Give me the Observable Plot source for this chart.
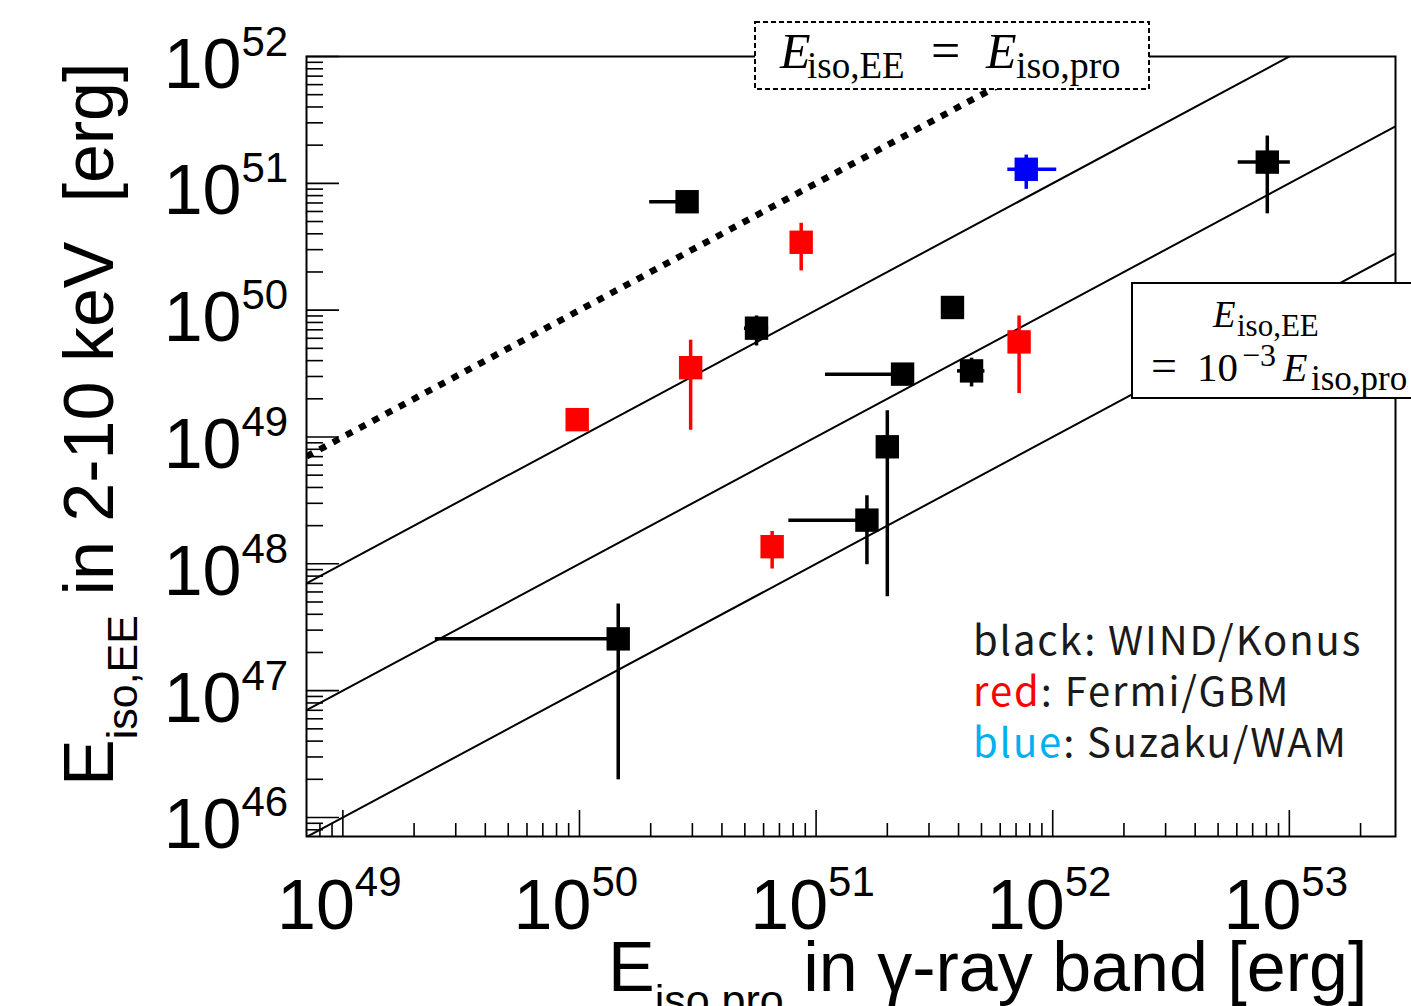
<!DOCTYPE html>
<html>
<head>
<meta charset="utf-8">
<script src="https://cdn.jsdelivr.net/npm/d3@7"></script>
<script src="https://cdn.jsdelivr.net/npm/@observablehq/plot@0.6"></script>
<style>
html, body { margin: 0; padding: 0; background: #fff; overflow: hidden; }
</style>
</head>
<body>
<div id="chart"></div>
<script>
// ---------- data ----------
const detector    = ["WIND","Fermi","WIND","Fermi","Fermi","WIND","Fermi","WIND","WIND","WIND","WIND","WIND","Fermi","Suzaku","WIND"];
const eisoPro     = [2.85e50, 8.65e50, 5.6e50, 2.95e50, 9.78e49, 3.77e51, 7.21e51, 2.32e51, 4.54e51, 2.0e51, 1.64e51, 1.458e50, 6.52e50, 7.73e51, 8.07e52];
const eisoProLow  = [1.98e50, null, 4.98e50, null, null, null, null, 1.096e51, 3.96e51, null, 7.67e50, 2.46e49, null, 6.46e51, 6.08e52];
const eisoProHigh = [null, null, 6.3e50, null, null, null, null, null, 5.17e51, null, null, null, null, 1.04e52, 1.01e53];
const eisoEE      = [7.16e50, 3.43e50, 7.21e49, 3.52e49, 1.37e49, 1.05e50, 5.62e49, 3.13e49, 3.32e49, 8.37e48, 2.21e48, 2.56e47, 1.365e48, 1.29e51, 1.47e51];
const eisoEELow   = [null, 2.04e50, 5.22e49, 1.13e49, null, null, 2.2e49, null, 2.48e49, 5.5e47, 9.84e47, 1.98e46, 9.1e47, 8.97e50, 5.75e50];
const eisoEEHigh  = [null, 4.84e50, 9.0e49, 5.8e49, null, null, 9.0e49, null, 4.18e49, 1.61e49, 3.44e48, 4.82e47, 1.8e48, 1.67e51, 2.36e51];

const detectorNames  = ["WIND", "Fermi", "Suzaku"];
const detectorColors = ["#000000", "#ff0000", "#0000ff"];

const ratioLines     = [1, 1e-1, 1e-2, 1e-3];   // E_iso,EE = ratio * E_iso,pro
const xDomain        = [7.02e48, 2.81e53];
const yDomain        = [7.08e45, 1e52];
const xTickExponents = [49, 50, 51, 52, 53];
const yTickExponents = [46, 47, 48, 49, 50, 51, 52];

const legendWords  = ["black", "red", "blue"];
const legendColors = ["#1a1a1a", "#ff0000", "#00b0f0"];
const legendLabels = [": WIND/Konus", ": Fermi/GBM", ": Suzaku/WAM"];

// ---------- derived tables ----------
const colorOf = d => detectorColors[detectorNames.indexOf(d)];
const points = eisoPro.map((x, i) => ({
  x, y: eisoEE[i],
  xlo: eisoProLow[i], xhi: eisoProHigh[i],
  ylo: eisoEELow[i], yhi: eisoEEHigh[i],
  color: colorOf(detector[i])
}));
const hErr = points.filter(p => p.xlo != null || p.xhi != null)
  .map(p => ({...p, x1: p.xlo ?? p.x, x2: p.xhi ?? p.x}));
const vErr = points.filter(p => p.ylo != null || p.yhi != null)
  .map(p => ({...p, y1: p.ylo ?? p.y, y2: p.yhi ?? p.y}));

const lineData = ratioLines.flatMap(r => xDomain.map(x => ({ratio: r, x, y: r * x})));

const minorTicks = (dom) => {
  const out = [];
  for (let e = Math.floor(Math.log10(dom[0])); e <= Math.ceil(Math.log10(dom[1])); e++)
    for (let k = 2; k <= 9; k++) { const v = k * Math.pow(10, e); if (v >= dom[0] && v <= dom[1]) out.push(v); }
  return out;
};
const xMinor = minorTicks(xDomain);
const yMinor = minorTicks(yDomain);

const W = 1411, H = 1006, mL = 306, mR = 16, mT = 56, mB = 170;
const frameW = W - mL - mR, frameH = H - mT - mB;

const plot = Plot.plot({
  width: W, height: H,
  marginLeft: mL, marginRight: mR, marginTop: mT, marginBottom: mB,
  style: {fontFamily: "'Liberation Sans', Arial, Helvetica, sans-serif", background: "white", color: "black"},
  x: {type: "log", domain: xDomain, axis: null},
  y: {type: "log", domain: yDomain, axis: null},
  marks: [
    // ratio lines
    Plot.line(lineData.filter(d => d.ratio !== 1), {x: "x", y: "y", z: "ratio", stroke: "black", strokeWidth: 2, clip: true}),
    Plot.line(lineData.filter(d => d.ratio === 1), {x: "x", y: "y", stroke: "black", strokeWidth: 6.5, strokeDasharray: "7,8", strokeLinecap: "butt", clip: true}),
    // error bars
    Plot.ruleY(hErr, {y: "y", x1: "x1", x2: "x2", stroke: "color", strokeWidth: 3.5}),
    Plot.ruleX(vErr, {x: "x", y1: "y1", y2: "y2", stroke: "color", strokeWidth: 3.5}),
    // markers
    Plot.dot(points, {x: "x", y: "y", symbol: "square", r: 13.2, fill: "color", stroke: null}),
    // ticks (inside the frame, ROOT style)
    Plot.tickX(xTickExponents.map(e => Math.pow(10, e)), {x: d => d, insetTop: frameH - 26, stroke: "black", strokeWidth: 1.6}),
    Plot.tickX(xMinor, {x: d => d, insetTop: frameH - 13, stroke: "black", strokeWidth: 1.6}),
    Plot.tickY(yTickExponents.map(e => Math.pow(10, e)), {y: d => d, insetRight: frameW - 33, stroke: "black", strokeWidth: 1.6}),
    Plot.tickY(yMinor, {y: d => d, insetRight: frameW - 17, stroke: "black", strokeWidth: 1.6}),
    // tick labels 10^n
    Plot.text(xTickExponents, {x: e => Math.pow(10, e), frameAnchor: "bottom", text: () => "10", textAnchor: "end", lineAnchor: "bottom", dx: 12, dy: 92, fontSize: 70}),
    Plot.text(xTickExponents, {x: e => Math.pow(10, e), frameAnchor: "bottom", text: e => String(e), textAnchor: "start", lineAnchor: "bottom", dx: 12, dy: 59, fontSize: 42}),
    Plot.text(yTickExponents, {y: e => Math.pow(10, e), frameAnchor: "left", text: () => "10", textAnchor: "end", lineAnchor: "bottom", dx: -65, dy: 31, fontSize: 70}),
    Plot.text(yTickExponents, {y: e => Math.pow(10, e), frameAnchor: "left", text: e => String(e), textAnchor: "start", lineAnchor: "bottom", dx: -65, dy: -1, fontSize: 42}),
    Plot.frame({stroke: "black", strokeWidth: 2})
  ]
});

document.getElementById("chart").appendChild(plot);

// ---------- titles & annotations ----------
const svg = d3.select(plot);
const sans = "'Liberation Sans', Arial, Helvetica, sans-serif";
const serif = "'Liberation Serif', 'Times New Roman', serif";

// x title
const xt = svg.append("text").attr("x", 608).attr("y", 991).attr("text-anchor", "start")
  .attr("font-family", sans).attr("font-size", 70).attr("fill", "black").style("white-space", "pre");
xt.append("tspan").text("E");
xt.append("tspan").attr("font-size", 43).attr("dy", 24).text("iso,pro");
xt.append("tspan").attr("dy", -24).text(" in γ-ray band [erg]");

// y title
const yt = svg.append("text").attr("transform", "translate(113,786) rotate(-90)").attr("text-anchor", "start")
  .attr("font-family", sans).attr("font-size", 70).attr("fill", "black").style("white-space", "pre");
yt.append("tspan").text("E");
yt.append("tspan").attr("font-size", 43).attr("dy", 24).text("iso,EE");
yt.append("tspan").attr("dy", -24).text(" in 2-10 keV  [erg]");

// dashed box: E_iso,EE = E_iso,pro
const b1 = svg.append("g");
b1.append("rect").attr("x", 755).attr("y", 22).attr("width", 394).attr("height", 67)
  .attr("fill", "white").attr("stroke", "black").attr("stroke-width", 2).attr("stroke-dasharray", "5,3");
const t1 = b1.append("text").attr("font-family", serif).attr("fill", "black").attr("text-anchor", "start");
t1.append("tspan").attr("x", 780).attr("y", 68).attr("font-size", 50).attr("font-style", "italic").text("E");
t1.append("tspan").attr("x", 807).attr("y", 78).attr("font-size", 37).text("iso,EE");
t1.append("tspan").attr("x", 931).attr("y", 68).attr("font-size", 52).text("=");
t1.append("tspan").attr("x", 986).attr("y", 68).attr("font-size", 50).attr("font-style", "italic").text("E");
t1.append("tspan").attr("x", 1016).attr("y", 78).attr("font-size", 38).text("iso,pro");

// solid box: E_iso,EE = 10^-3 E_iso,pro
const b2 = svg.append("g");
b2.append("rect").attr("x", 1132).attr("y", 283).attr("width", 320).attr("height", 115)
  .attr("fill", "white").attr("stroke", "black").attr("stroke-width", 2);
const t2 = b2.append("text").attr("font-family", serif).attr("fill", "black").attr("text-anchor", "start");
t2.append("tspan").attr("x", 1213).attr("y", 327).attr("font-size", 37).attr("font-style", "italic").text("E");
t2.append("tspan").attr("x", 1237).attr("y", 336).attr("font-size", 31).text("iso,EE");
t2.append("tspan").attr("x", 1151).attr("y", 381).attr("font-size", 46).text("=");
t2.append("tspan").attr("x", 1197).attr("y", 381).attr("font-size", 41).text("10");
t2.append("tspan").attr("x", 1242).attr("y", 366).attr("font-size", 32).text("−3");
t2.append("tspan").attr("x", 1283).attr("y", 381).attr("font-size", 40).attr("font-style", "italic").text("E");
t2.append("tspan").attr("x", 1311).attr("y", 390).attr("font-size", 35).text("iso,pro");

// legend text
const lg = svg.append("g").attr("font-family", "'Noto Sans CJK JP', 'Noto Sans', sans-serif").attr("font-size", 40);
legendWords.forEach((w, i) => {
  const t = lg.append("text").attr("x", 973).attr("y", 655 + i * 51).attr("text-anchor", "start")
    .style("letter-spacing", "1.9px").style("white-space", "pre");
  t.append("tspan").attr("fill", legendColors[i]).text(w);
  t.append("tspan").attr("fill", "#1a1a1a").text(legendLabels[i]);
});
</script>
</body>
</html>
